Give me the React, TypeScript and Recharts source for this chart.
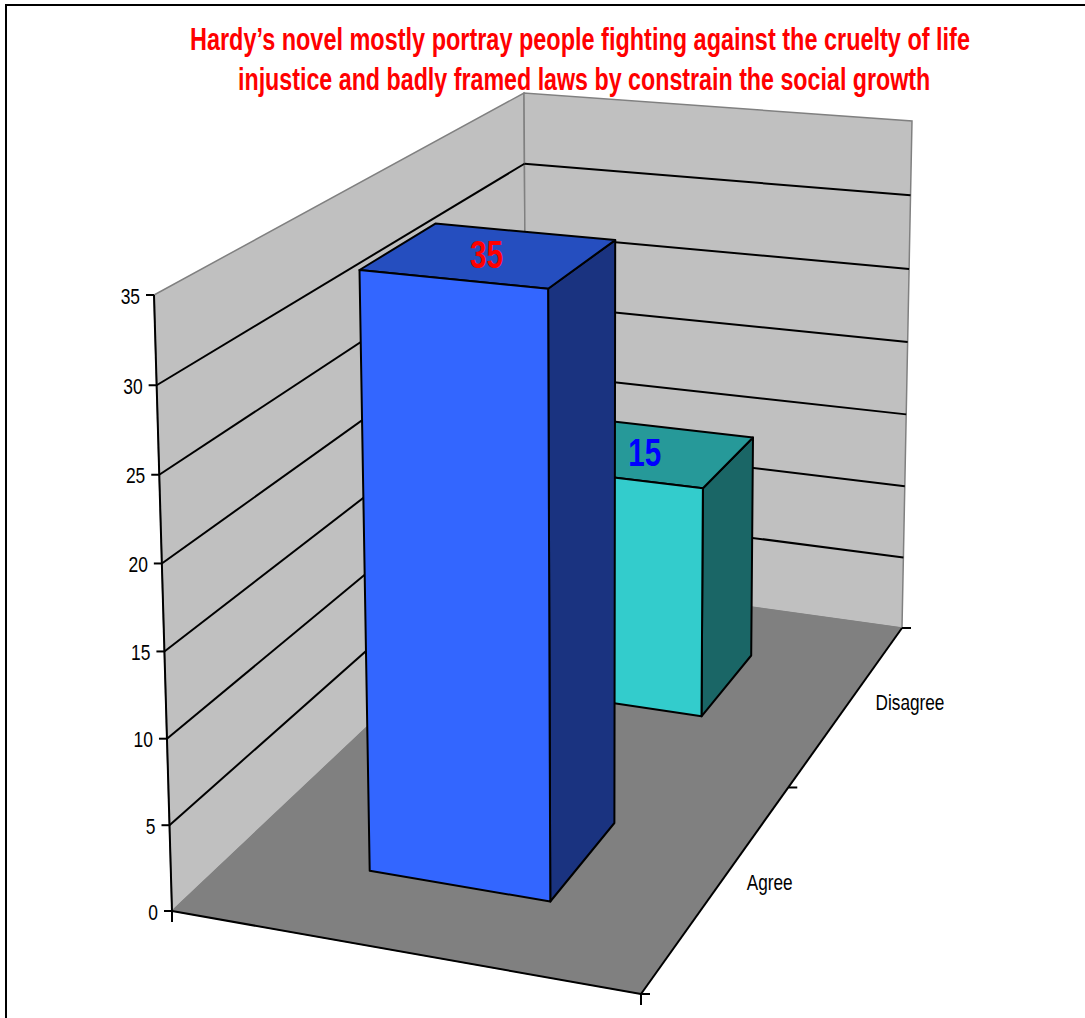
import React from "react";
import { Bar, BarChart, CartesianGrid, Customized, XAxis, YAxis } from "recharts";

const categories = ["Disagree", "Agree"]; // back to front, so the nearer bar paints last
const values = [15, 35];
const yTicks = [0, 5, 10, 15, 20, 25, 30, 35];
const titleLines = [
  "Hardy\u2019s novel mostly portray people fighting against the cruelty of life",
  "injustice and badly framed laws by constrain the social growth",
];
const frontColors = ["#33CCCC", "#3366FF"];
const topColors = ["#269999", "#254EBF"];
const sideColors = ["#1A6666", "#1A3380"];
const labelColors = ["#0000FF", "#FF0000"];

const WIDTH = 1085;
const HEIGHT = 1018;
const PLOT = { left: 60, top: 100, width: 800, height: 800 };
const SANS = '"Liberation Sans", Arial, sans-serif';

type Pt = [number, number];

// corners of the box: front-left, front-right, back-right, back-left
const FLOOR: Pt[] = [[172, 911], [641, 994], [902, 628], [527, 576]];
const CEILING: Pt[] = [[154, 295], [645, 347], [912, 121], [524, 93]];
const BAR_LEFT = 0.3;
const BAR_RIGHT = 0.7;

// unit square -> quad
function makeHomography(q: Pt[]) {
  const [a0, a1, a2, a3] = q;
  const dx1 = a1[0] - a2[0], dy1 = a1[1] - a2[1];
  const dx2 = a3[0] - a2[0], dy2 = a3[1] - a2[1];
  const sx = a0[0] - a1[0] + a2[0] - a3[0], sy = a0[1] - a1[1] + a2[1] - a3[1];
  const det = dx1 * dy2 - dx2 * dy1;
  const g = (sx * dy2 - dx2 * sy) / det;
  const h = (dx1 * sy - sx * dy1) / det;
  const a = a1[0] - a0[0] + g * a1[0], b = a3[0] - a0[0] + h * a3[0];
  const d = a1[1] - a0[1] + g * a1[1], e = a3[1] - a0[1] + h * a3[1];
  return (u: number, v: number): Pt => {
    const w = g * u + h * v + 1;
    return [(a * u + b * v + a0[0]) / w, (d * u + e * v + a0[1]) / w];
  };
}

const floorAt = makeHomography(FLOOR);
const ceilingAt = makeHomography(CEILING);

// u: left to right, v: front to back, t: 0 at the floor, 1 at the axis maximum
function project(u: number, v: number, t: number): Pt {
  const f = floorAt(u, v);
  const c = ceilingAt(u, v);
  const s = t / (t + 1.03 * (1 - t));
  return [f[0] + (c[0] - f[0]) * s, f[1] + (c[1] - f[1]) * s];
}

const toPath = (pts: Pt[]) => "M" + pts.map((p) => `${p[0].toFixed(1)},${p[1].toFixed(1)}`).join("L") + "Z";
const depthOf = (x: number) => 1 - (x - PLOT.left) / PLOT.width;
const levelOf = (y: number) => (PLOT.top + PLOT.height - y) / PLOT.height;

function Line3D({ from, to, stroke = "#000", width = 2 }: { from: Pt; to: Pt; stroke?: string; width?: number }) {
  return <line x1={from[0]} y1={from[1]} x2={to[0]} y2={to[1]} stroke={stroke} strokeWidth={width} />;
}

// condensed text: the glyphs are squeezed sideways about the anchor point
function Squeezed({ x, y, sx, children, ...rest }: any) {
  return (
    <text transform={`translate(${x} ${y}) scale(${sx} 1)`} fontFamily={SANS} {...rest}>
      {children}
    </text>
  );
}

// walls, floor and the frame round the chart
function Room() {
  const leftWall = [project(0, 0, 0), project(0, 1, 0), project(0, 1, 1), project(0, 0, 1)];
  const backWall = [project(0, 1, 0), project(1, 1, 0), project(1, 1, 1), project(0, 1, 1)];
  const floor = [project(0, 0, 0), project(1, 0, 0), project(1, 1, 0), project(0, 1, 0)];
  const frontLeft = project(0, 0, 0);
  const frontRight = project(1, 0, 0);
  return (
    <svg width={WIDTH} height={HEIGHT} style={{ position: "absolute", left: 0, top: 0 }}>
      <path d="M6,1018V5H1085" fill="none" stroke="#000" strokeWidth={2} />
      <path d={toPath(leftWall)} fill="#C0C0C0" stroke="#808080" strokeWidth={1.5} />
      <path d={toPath(backWall)} fill="#C0C0C0" stroke="#808080" strokeWidth={1.5} />
      <path d={toPath(floor)} fill="#808080" stroke="#808080" strokeWidth={1} />
      <Line3D from={project(0, 0, 0)} to={project(0, 0, 1)} />
      <Line3D from={frontLeft} to={frontRight} />
      <Line3D from={frontRight} to={project(1, 1, 0)} />
      <Line3D from={frontLeft} to={[frontLeft[0], frontLeft[1] + 11]} />
      <Line3D from={frontRight} to={[frontRight[0], frontRight[1] + 11]} />
      {[0, 0.5, 1].map((v) => {
        const p = project(1, v, 0);
        return <Line3D key={v} from={p} to={[p[0] + 9, p[1]]} />;
      })}
    </svg>
  );
}

function Title() {
  const spans = [
    { x: 190, y: 50, sx: 0.757 },
    { x: 238, y: 90, sx: 0.75 },
  ];
  return (
    <g>
      {titleLines.map((line, i) => (
        <Squeezed key={line} x={spans[i].x} y={spans[i].y} sx={spans[i].sx} fill="#FF0000" fontWeight="bold" fontSize={31}>
          {line}
        </Squeezed>
      ))}
    </g>
  );
}

// one gridline runs along the left wall, then along the back wall
function WallLine(props: any) {
  const t = levelOf(props.y1);
  if (t <= 0.001 || t >= 0.999) return <g />;
  return (
    <g>
      <Line3D from={project(0, 0, t)} to={project(0, 1, t)} />
      <Line3D from={project(0, 1, t)} to={project(1, 1, t)} />
    </g>
  );
}

function ValueTick(props: any) {
  const t = levelOf(props.y);
  const p = project(0, 0, t);
  return (
    <g>
      <Line3D from={[p[0] - 8, p[1]]} to={p} />
      <Squeezed x={p[0] - 14} y={p[1] + 1} sx={0.81} dy="0.36em" textAnchor="end" fontSize={21.5} fill="#000">
        {props.payload.value}
      </Squeezed>
    </g>
  );
}

function CategoryTick(props: any) {
  const p = project(1, depthOf(props.x), 0);
  return (
    <Squeezed x={p[0] + 27} y={p[1] - 1} sx={0.8} dy="0.36em" textAnchor="start" fontSize={21.5} fill="#000">
      {props.payload.value}
    </Squeezed>
  );
}

function Box3D(props: any) {
  const { x, width, height, index } = props;
  const t = height / PLOT.height;
  const near = depthOf(x + width);
  const far = depthOf(x);
  const front = [project(BAR_LEFT, near, 0), project(BAR_RIGHT, near, 0), project(BAR_RIGHT, near, t), project(BAR_LEFT, near, t)];
  const side = [project(BAR_RIGHT, near, 0), project(BAR_RIGHT, far, 0), project(BAR_RIGHT, far, t), project(BAR_RIGHT, near, t)];
  const top = [project(BAR_LEFT, near, t), project(BAR_RIGHT, near, t), project(BAR_RIGHT, far, t), project(BAR_LEFT, far, t)];
  const centre = project((BAR_LEFT + BAR_RIGHT) / 2, (near + far) / 2, t);
  return (
    <g stroke="#000" strokeWidth={2} strokeLinejoin="round">
      <path d={toPath(side)} fill={sideColors[index]} />
      <path d={toPath(top)} fill={topColors[index]} />
      <path d={toPath(front)} fill={frontColors[index]} />
      <Squeezed
        x={centre[0] - 3}
        y={centre[1]}
        sx={0.78}
        dy="0.36em"
        textAnchor="middle"
        stroke="none"
        fill={labelColors[index]}
        fontWeight="bold"
        fontSize={38}
      >
        {values[index]}
      </Squeezed>
    </g>
  );
}

const rows = categories.map((name, i) => ({ name, value: values[i] }));

export default function App() {
  return (
    <div style={{ position: "absolute", left: 0, top: 0, width: WIDTH, height: HEIGHT, background: "#fff" }}>
      <Room />
      <BarChart
        width={WIDTH}
        height={HEIGHT}
        data={rows}
        barCategoryGap="30.4%"
        margin={{ top: PLOT.top, left: 0, right: WIDTH - PLOT.left - PLOT.width, bottom: 0 }}
      >
        <CartesianGrid vertical={false} horizontal={(p: any) => <WallLine key={p.key} {...p} />} />
        <XAxis
          dataKey="name"
          axisLine={false}
          tickLine={false}
          height={HEIGHT - PLOT.top - PLOT.height}
          tick={CategoryTick}
          interval={0}
        />
        <YAxis
          type="number"
          domain={[0, 35]}
          ticks={yTicks}
          interval={0}
          axisLine={false}
          tickLine={false}
          width={PLOT.left}
          tick={ValueTick}
        />
        <Bar dataKey="value" isAnimationActive={false} shape={Box3D} />
        <Customized component={<Title />} />
      </BarChart>
    </div>
  );
}
